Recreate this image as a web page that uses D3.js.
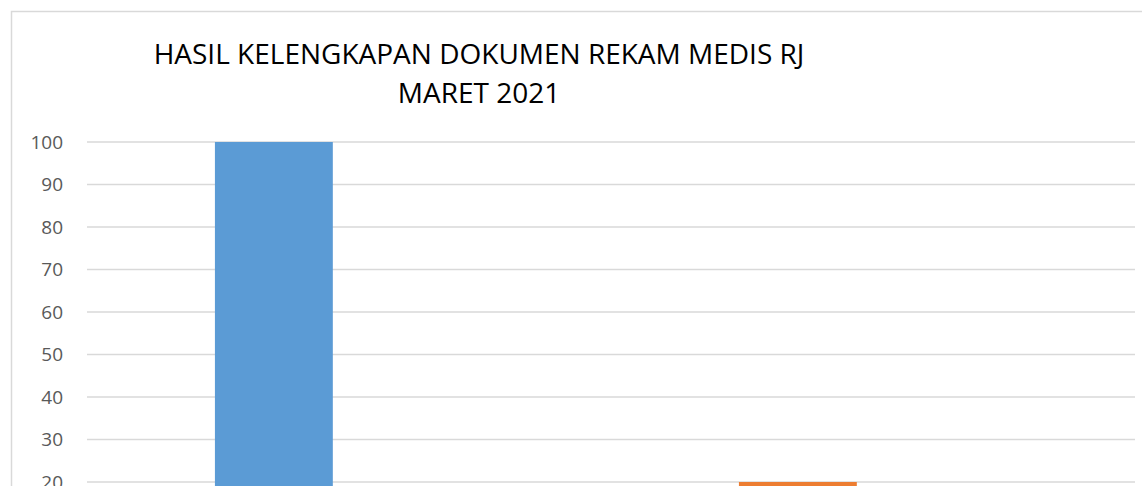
<!DOCTYPE html>
<html>
<head>
<meta charset="utf-8">
<script src="https://cdn.jsdelivr.net/npm/d3@7"></script>
<style>
    body { margin: 0; background: #fff; }
    svg { display: block; }
</style>
</head>
<body>
<script>
// values
var categories = ["Lengkap", "Tidak Lengkap"];
var values = [100, 20];
var barColors = ["#5b9bd5", "#ed7d31"];
var yTicks = [0, 10, 20, 30, 40, 50, 60, 70, 80, 90, 100];
var titleLines = ["HASIL KELENGKAPAN DOKUMEN REKAM MEDIS RJ", "MARET 2021"];

function init() {
    var w = 1142;
    var h = 486;

    var svg = d3.select("body")
        .append("svg")
        .attr("width", w)
        .attr("height", h);

    // chart area border (cut off on the right / bottom)
    svg.append("rect")
        .attr("x", 11.5)
        .attr("y", 11.5)
        .attr("width", 1200)
        .attr("height", 600)
        .attr("fill", "#fff")
        .attr("stroke", "#d9d9d9")
        .attr("stroke-width", 1.5);

    var x = d3.scaleBand()
        .domain(categories)
        .range([87, 1135])
        .paddingInner(0.775)
        .paddingOuter(0.3875)
        .align(0.315);

    var y = d3.scaleLinear()
        .domain([0, 100])
        .range([567, 142]);

    // gridlines
    svg.append("g")
        .selectAll("line")
        .data(yTicks)
        .enter()
        .append("line")
        .attr("x1", 87)
        .attr("x2", 1135)
        .attr("y1", function (d) { return y(d); })
        .attr("y2", function (d) { return y(d); })
        .attr("stroke", "#d9d9d9")
        .attr("stroke-width", 1.5);

    var yAxis = d3.axisLeft(y)
        .tickValues(yTicks)
        .tickSize(0)
        .tickPadding(24);

    var ga = svg.append("g")
        .attr("transform", "translate(87,0)")
        .call(yAxis);
    ga.select(".domain").remove();
    ga.selectAll("text")
        .attr("fill", "#595959")
        .style("font-family", "'Open Sans', sans-serif")
        .style("font-size", "19px");

    svg.selectAll("rect.bar")
        .data(values)
        .enter()
        .append("rect")
        .attr("class", "bar")
        .attr("x", function (d, i) { return x(categories[i]); })
        .attr("width", x.bandwidth())
        .attr("y", function (d) { return y(d); })
        .attr("height", function (d) { return y(0) - y(d); })
        .attr("fill", function (d, i) { return barColors[i]; });

    svg.selectAll("text.title")
        .data(titleLines)
        .enter()
        .append("text")
        .attr("class", "title")
        .attr("x", 479)
        .attr("y", function (d, i) { return 64 + i * 39; })
        .attr("text-anchor", "middle")
        .attr("fill", "#000")
        .style("font-family", "'Open Sans', sans-serif")
        .style("font-size", "28px")
        .text(function (d) { return d; });
}

window.onload = init;
</script>
</body>
</html>
